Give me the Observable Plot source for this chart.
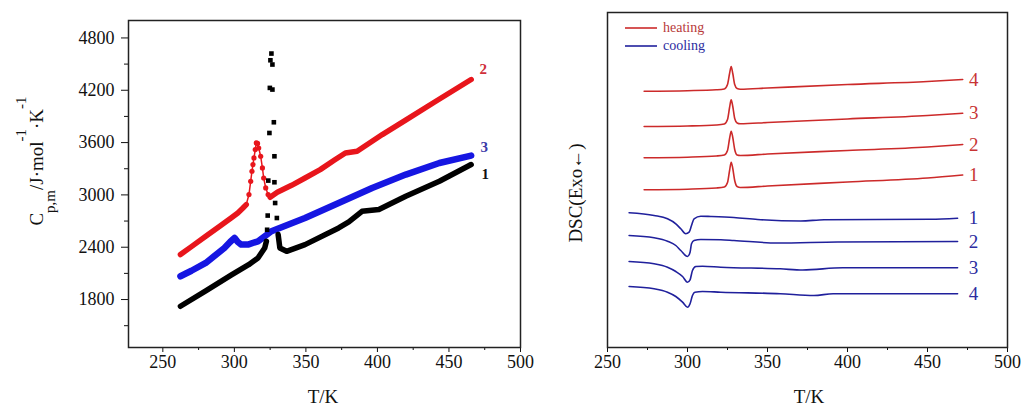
<!DOCTYPE html>
<html><head><meta charset="utf-8">
<script src="https://cdn.jsdelivr.net/npm/d3@7"></script>
<script src="https://cdn.jsdelivr.net/npm/@observablehq/plot@0.6"></script>
<style>
html,body{margin:0;padding:0;background:#fff;}
#wrap{display:flex;width:1024px;height:406px;overflow:hidden;background:#fff;}
svg{display:block;overflow:visible;}
#wrap svg, #wrap svg text, #wrap svg tspan { font-family: "Liberation Serif", "Times New Roman", serif !important; }
#wrap svg g[aria-label$="tick label"] text { font-size: 18px !important; }
</style></head><body><div id="wrap"></div>
<script>
// ---------- Left panel: Cp,m vs T (series 1, 2, 3) ----------
const leftXTicks = [250, 300, 350, 400, 450, 500];
const leftXMinor = [275, 325, 375, 425, 475];
const leftYTicks = [1800, 2400, 3000, 3600, 4200, 4800];
const leftYMinor = [1500, 2100, 2700, 3300, 3900, 4500];

// series 2 (red circles): [T, Cp]
const series2 = [[262.3,2316],[270,2407],[280,2525],[290,2643],[297.7,2735],[302.4,2793],[306,2850],[308.3,2889],
  [310.2,3004],[311.4,3156],[312.3,3271],[313,3348],[313.7,3424],[314.6,3520],[315.3,3596],[316.2,3590],
  [317,3538],[318.4,3443],[319.6,3309],[320.5,3194],[321.9,3080],[323.6,3004],[325,2973],
  [330,3030],[340,3110],[349.4,3194],[360,3290],[370,3400],[377.6,3481],[385.8,3500],[395,3600],
  [403.4,3692],[420,3861],[440,4065],[465.5,4323]];
// series 3 (blue triangles)
const series3 = [[262.3,2067],[270,2130],[280,2220],[293,2391],[297,2460],[300.1,2507],[302.4,2460],
  [304.8,2430],[309.5,2430],[316.5,2468],[325.9,2583],[349.4,2735],[372.9,2907],[396.3,3080],[419.8,3233],[443.3,3366],[465.5,3451]];
// series 1 (black squares): before, spike, after
const series1a = [[262.3,1723],[280,1900],[297.7,2080],[310,2200],[316.5,2277],[321.2,2391],[322.4,2468]];
const series1spike = [[322.9,2600],[323.3,2763],[323.7,3164],[324.5,3710],[324.8,4227],[325.2,4544],[325.9,4621],
  [326.6,4495],[326.6,4208],[327.6,3833],[328,3443],[328,3145],[328.5,2907],[329.7,2735]];
const series1b = [[330.6,2545],[331.8,2391],[336.5,2353],[349.4,2430],[372.9,2621],[380,2690],[389.2,2812],
  [401,2832],[419.8,2984],[443.3,3156],[465.5,3348]];

// ---------- Right panel: DSC curves (arbitrary offset units) ----------
const rightXTicks = [250, 300, 350, 400, 450, 500];
const rightXMinor = [275, 325, 375, 425, 475];
const heating1 = [[272.9,15.77],[300,15.83],[318,15.95],[323,16.05],[325,16.5],[326.3,17.7],[327.3,18.53],[328.3,17.9],[329.5,16.7],[331,16.1],[333,16.0],[350,16.15],[400,16.55],[450,16.95],[472,17.25]];
const heating2 = [[272.9,18.97],[300,19.03],[318,19.15],[323,19.25],[325,19.7],[326.3,20.9],[327.3,21.63],[328.3,21.0],[329.5,19.8],[331,19.25],[333,19.2],[350,19.35],[400,19.7],[450,20.05],[472,20.3]];
const heating3 = [[272.9,22.1],[300,22.15],[318,22.25],[323,22.35],[325,22.8],[326.3,24.0],[327.3,24.77],[328.3,24.1],[329.5,22.9],[331,22.45],[333,22.37],[350,22.5],[400,22.85],[450,23.2],[472,23.43]];
const heating4 = [[272.9,25.63],[300,25.68],[318,25.77],[323,25.85],[325,26.3],[326.3,27.4],[327.3,28.1],[328.3,27.4],[329.5,26.3],[331,25.9],[333,25.83],[350,25.95],[400,26.3],[450,26.6],[472,26.8]];
const cooling1 = [[263.5,13.47],[279.1,13.2],[287.5,12.87],[292.7,12.37],[295.8,11.87],[298.9,11.37],[301,11.53],[302.5,12.2],[304.1,12.87],[308.3,13.13],[314.6,13.1],[329,13.0],[343.8,12.8],[370.8,12.65],[385.4,12.78],[452,12.82],[468.8,12.93]];
const cooling2 = [[263.5,11.2],[279.1,10.97],[287.5,10.63],[292.7,10.2],[295.8,9.7],[300,9.1],[301.6,9.53],[302.5,10.37],[304.1,10.7],[308.3,10.8],[320.8,10.77],[329,10.7],[356,10.45],[393.7,10.55],[468.8,10.6]];
const cooling3 = [[263.5,8.6],[279.1,8.37],[287.5,8.03],[292.7,7.6],[296.9,7.1],[300,6.53],[301.6,6.77],[303.1,7.7],[305.2,8.1],[309.4,8.13],[320.8,8.03],[358,7.87],[372,7.75],[397,7.97],[468.8,7.97]];
const cooling4 = [[263.5,6.1],[279.1,5.87],[287.5,5.53],[292.7,5.1],[296.9,4.53],[300,4.03],[301.6,4.37],[303.1,5.2],[304.6,5.53],[309.4,5.6],[320.8,5.53],[358,5.38],[379,5.2],[391,5.37],[468.8,5.37]];

const heatingCurves = [heating1, heating2, heating3, heating4];
const coolingCurves = [cooling1, cooling2, cooling3, cooling4];
const curveNames = ["1", "2", "3", "4"];

const FONT = "'Liberation Serif', 'Times New Roman', serif";
const RED = "#e8161c", BLUE = "#1616e2", BLACK = "#000";
const DRED = "#cc2a2a", DBLUE = "#20209c";
const X = d => d[0], Y = d => d[1];
const fmt = d => String(d);

const peak = d => d[0] > 309 && d[0] < 324;

const left = Plot.plot({
  width: 521, height: 406,
  marginLeft: 128, marginRight: 1, marginTop: 20, marginBottom: 59,
  x: {domain: [226, 500], label: null},
  y: {domain: [1250, 5000], label: null},
  style: {background: "transparent", overflow: "visible", color: "#111", fontFamily: FONT},
  marks: [
    Plot.axisX({ticks: leftXTicks, tickSize: 5, tickPadding: 3, label: null, tickFormat: fmt}),
    Plot.axisX({ticks: leftXMinor, tickSize: 3, tickFormat: () => "", label: null}),
    Plot.axisY({ticks: leftYTicks, tickSize: 7, tickPadding: 7, label: null, tickFormat: fmt}),
    Plot.axisY({ticks: leftYMinor, tickSize: 4, tickFormat: () => "", label: null}),
    Plot.line(series3, {x: X, y: Y, stroke: BLUE, strokeWidth: 6.5}),
    Plot.line(series2, {x: X, y: d => peak(d) ? NaN : d[1], stroke: RED, strokeWidth: 5.5}),
    Plot.line(series2, {x: X, y: Y, stroke: RED, strokeWidth: 1.5}),
    Plot.dot(series2.filter(peak), {x: X, y: Y, r: 2.6, fill: RED}),
    Plot.line(series1a, {x: X, y: Y, stroke: BLACK, strokeWidth: 5.5}),
    Plot.line(series1b, {x: X, y: Y, stroke: BLACK, strokeWidth: 5.5}),
    Plot.dot(series1spike, {x: X, y: Y, symbol: "square", r: 2.6, fill: BLACK}),
    Plot.text(series2, Plot.selectLast({x: X, y: Y, text: () => "2", dx: 12, dy: -10, fill: "#d0303a", fontWeight: "bold", fontSize: 15})),
    Plot.text(series3, Plot.selectLast({x: X, y: Y, text: () => "3", dx: 13, dy: -8, fill: "#3a3aa8", fontWeight: "bold", fontSize: 15})),
    Plot.text(series1b, Plot.selectLast({x: X, y: Y, text: () => "1", dx: 14, dy: 10, fill: "#111", fontWeight: "bold", fontSize: 15})),
    Plot.frame({stroke: "#222", strokeWidth: 1.5})
  ]
});

const rightMarks = [
  Plot.axisX({ticks: rightXTicks, tickSize: 5, tickPadding: 3, label: null, tickFormat: fmt}),
  Plot.axisX({ticks: rightXMinor, tickSize: 3, tickFormat: () => "", label: null})
];
heatingCurves.forEach((c, i) => {
  rightMarks.push(Plot.line(c, {x: X, y: Y, stroke: DRED, strokeWidth: 1.6, curve: "monotone-x"}));
  rightMarks.push(Plot.text(c, Plot.selectLast({x: X, y: Y, text: () => curveNames[i], dx: 11, fill: "#c83434", fontSize: 19})));
});
coolingCurves.forEach((c, i) => {
  rightMarks.push(Plot.line(c, {x: X, y: Y, stroke: DBLUE, strokeWidth: 1.6, curve: "monotone-x"}));
  rightMarks.push(Plot.text(c, Plot.selectLast({x: X, y: Y, text: () => curveNames[i], dx: 16, fill: "#2c2ca0", fontSize: 19})));
});
rightMarks.push(Plot.frame({stroke: "#222", strokeWidth: 1.5}));

const right = Plot.plot({
  width: 503, height: 406,
  marginLeft: 86, marginRight: 17, marginTop: 12, marginBottom: 59,
  x: {domain: [250, 500], label: null},
  y: {domain: [0, 33.5], label: null, axis: null},
  style: {background: "transparent", color: "#111", fontFamily: FONT},
  marks: rightMarks
});

const wrap = document.getElementById("wrap");
wrap.appendChild(left);
wrap.appendChild(right);

for (const svg of [left, right]) {
  d3.select(svg).selectAll("text").attr("font-family", FONT).style("font-family", FONT);
}

// axis titles
const ls = d3.select(left);
ls.append("text").attr("x", 323).attr("y", 403).attr("text-anchor", "middle")
  .style("font-size", "19px").attr("fill", "#111").text("T/K");
const yl = ls.append("text").attr("transform", "translate(43,161) rotate(-90)")
  .attr("text-anchor", "middle").style("font-size", "19px").attr("fill", "#111");
yl.append("tspan").text("C");
yl.append("tspan").attr("dy", 12).style("font-size", "15px").text("p,m");
yl.append("tspan").attr("dy", -12).text("/J·mol");
yl.append("tspan").attr("dy", -17).style("font-size", "15px").text("-1");
yl.append("tspan").attr("dy", 17).text("·K");
yl.append("tspan").attr("dy", -17).style("font-size", "15px").text("-1");

const rs = d3.select(right);
rs.append("text").attr("x", 288).attr("y", 403).attr("text-anchor", "middle")
  .style("font-size", "19px").attr("fill", "#111").text("T/K");
rs.append("text").attr("transform", "translate(61,193) rotate(-90)").attr("text-anchor", "middle")
  .style("font-size", "19px").attr("fill", "#111").text("DSC(Exo\u2190)");

// legend
const legendItems = [{label: "heating", color: DRED, text: "#b83a3a"}, {label: "cooling", color: DBLUE, text: "#2c2ca0"}];
const lg = rs.append("g").attr("transform", "translate(104,28)");
legendItems.forEach((it, i) => {
  const g = lg.append("g").attr("transform", `translate(0,${i * 18})`);
  g.append("line").attr("x1", 0).attr("x2", 32).attr("y1", 0).attr("y2", 0)
    .attr("stroke", it.color).attr("stroke-width", 1.6);
  g.append("text").attr("x", 38).attr("y", 4).attr("text-anchor", "start")
    .style("font-size", "14px").attr("fill", it.text).text(it.label);
});
</script></body></html>
